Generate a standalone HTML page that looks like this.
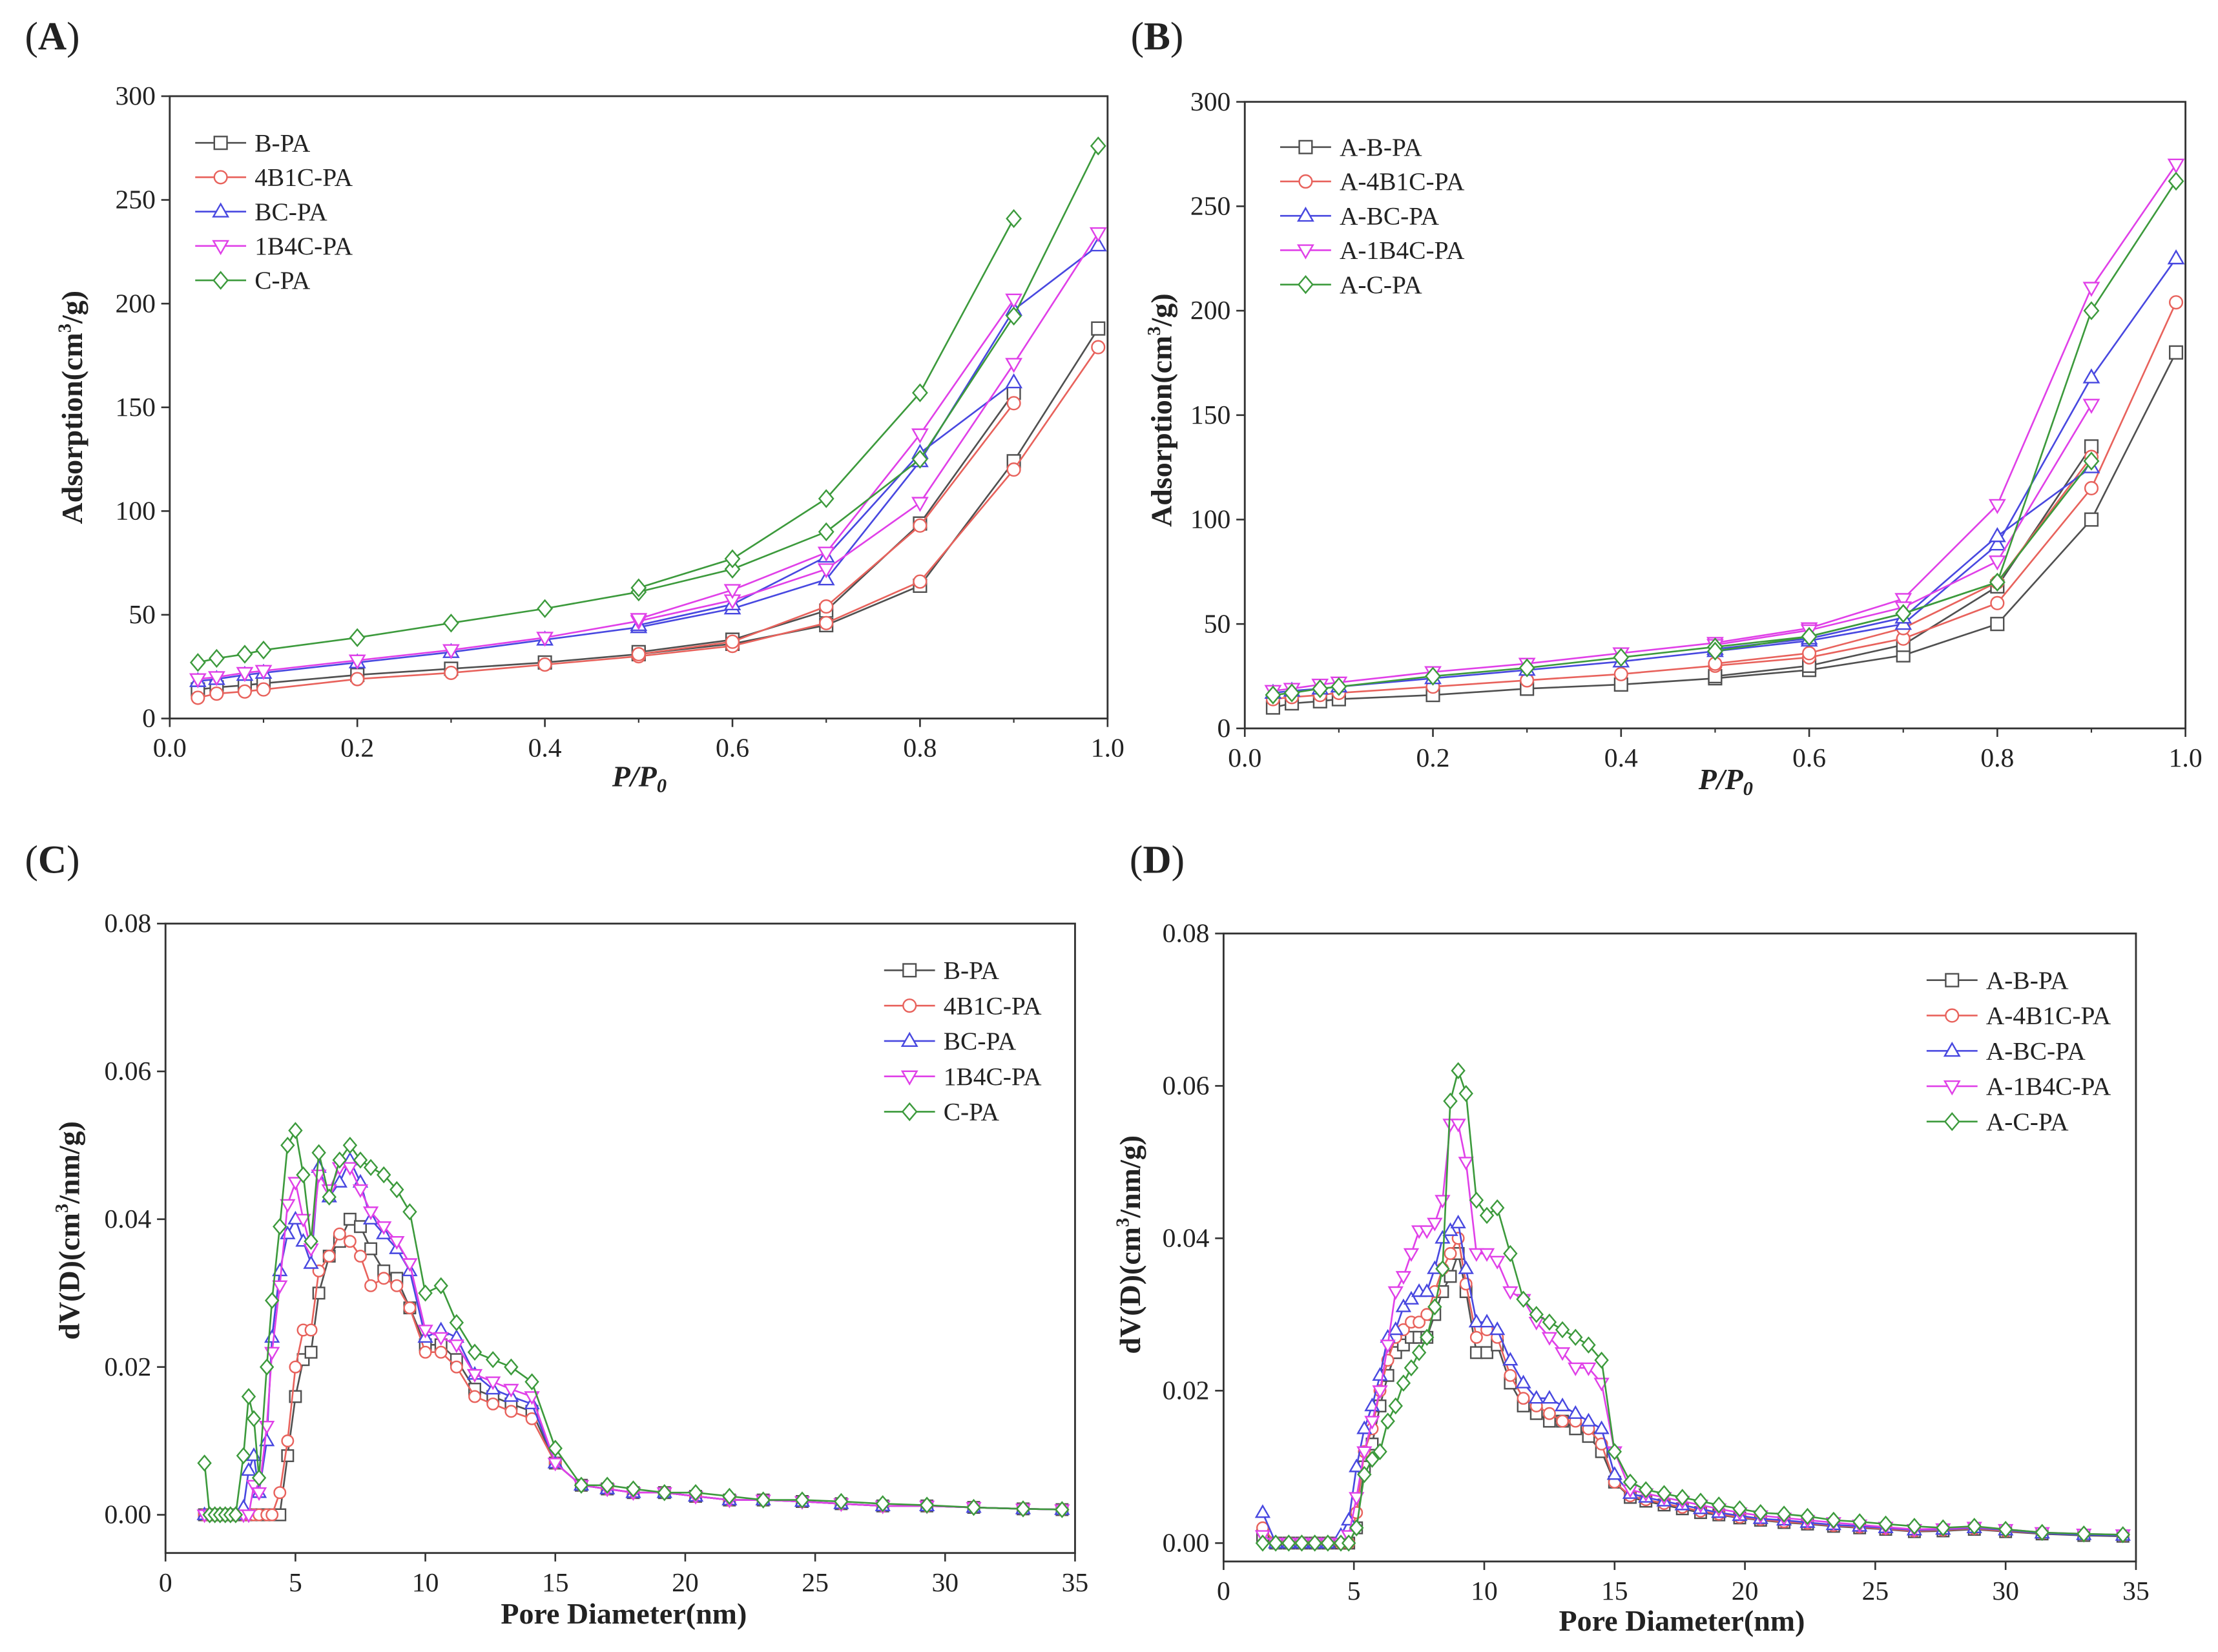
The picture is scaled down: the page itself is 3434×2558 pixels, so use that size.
<!DOCTYPE html>
<html><head><meta charset="utf-8"><style>
html,body{margin:0;padding:0;background:#fff}
svg{display:block}
text{font-family:"Liberation Serif",serif;fill:#222}
</style></head><body>
<svg id="fig" width="3434" height="2558" viewBox="0 0 1568 1168" xmlns="http://www.w3.org/2000/svg"></svg>
<script>
// ---------- data ----------
const isoX = [0.03,0.05,0.08,0.1,0.2,0.3,0.4,0.5,0.6,0.7,0.8,0.9,0.99];
const desX = [0.5,0.6,0.7,0.8,0.9];
const namesA = ["B-PA","4B1C-PA","BC-PA","1B4C-PA","C-PA"];
const namesB = ["A-B-PA","A-4B1C-PA","A-BC-PA","A-1B4C-PA","A-C-PA"];
const adsA_B = [14,15,16,17,21,24,27,31,36,45,64,124,188];
const adsA_4B1C = [10,12,13,14,19,22,26,30,35,46,66,120,179];
const adsA_BC = [18,19,21,22,27,32,38,44,53,67,124,197,228];
const adsA_1B4C = [19,20,22,23,28,33,39,47,57,72,104,171,234];
const adsA_C = [27,29,31,33,39,46,53,61,72,90,125,194,276];
const desA_B = [32,38,52,94,157];
const desA_4B1C = [31,37,54,93,152];
const desA_BC = [45,55,78,128,162];
const desA_1B4C = [48,62,80,137,202];
const desA_C = [63,77,106,157,241];
const adsB_B = [10,12,13,14,16,19,21,24,28,35,50,100,180];
const adsB_4B1C = [14,15,16,17,20,23,26,30,34,43,60,115,204];
const adsB_BC = [17,18,19,20,24,28,32,37,42,50,88,168,225];
const adsB_1B4C = [18,19,21,22,27,31,36,41,48,62,107,211,270];
const adsB_C = [16,17,19,20,25,29,34,39,44,55,70,200,262];
const desB_B = [25,30,40,68,135];
const desB_4B1C = [31,36,48,70,130];
const desB_BC = [38,43,53,92,125];
const desB_1B4C = [40,47,58,80,155];
const desB_C = [37,44,55,70,128];
const poreXC = [1.5,1.7,1.9,2.1,2.3,2.5,2.7,3.0,3.2,3.4,3.6,3.9,4.1,4.4,4.7,5.0,5.3,5.6,5.9,6.3,6.7,7.1,7.5,7.9,8.4,8.9,9.4,10.0,10.6,11.2,11.9,12.6,13.3,14.1,15.0,16.0,17.0,18.0,19.2,20.4,21.7,23.0,24.5,26.0,27.6,29.3,31.1,33.0,34.5];
const psdC_B = [0,0,0,0,0,0,0,0,0,0,0,0,0,0,0.008,0.016,0.021,0.022,0.030,0.035,0.037,0.040,0.039,0.036,0.033,0.032,0.028,0.023,0.023,0.021,0.017,0.016,0.015,0.014,0.007,0.004,0.0035,0.003,0.003,0.0025,0.002,0.002,0.0018,0.0015,0.0012,0.0012,0.001,0.0008,0.0007];
const psdC_4B1C = [0,0,0,0,0,0,0,0,0,0,0,0,0,0.003,0.010,0.020,0.025,0.025,0.033,0.035,0.038,0.037,0.035,0.031,0.032,0.031,0.028,0.022,0.022,0.020,0.016,0.015,0.014,0.013,0.007,0.004,0.0035,0.003,0.003,0.0025,0.002,0.002,0.0018,0.0015,0.0012,0.0012,0.001,0.0008,0.0007];
const psdC_BC = [0,0,0,0,0,0,0,0.001,0.006,0.008,0.003,0.010,0.024,0.033,0.038,0.040,0.037,0.034,0.047,0.043,0.045,0.048,0.045,0.040,0.038,0.036,0.033,0.024,0.025,0.024,0.019,0.017,0.016,0.015,0.007,0.004,0.0035,0.003,0.003,0.0025,0.002,0.002,0.0018,0.0015,0.0012,0.0012,0.001,0.0008,0.0007];
const psdC_1B4C = [0,0,0,0,0,0,0,0,0,0.004,0.003,0.012,0.022,0.031,0.042,0.045,0.040,0.036,0.046,0.044,0.047,0.047,0.044,0.041,0.039,0.037,0.034,0.025,0.024,0.023,0.019,0.018,0.017,0.016,0.007,0.004,0.0035,0.003,0.003,0.0025,0.002,0.002,0.0018,0.0015,0.0012,0.0012,0.001,0.0008,0.0007];
const psdC_C = [0.007,0,0,0,0,0,0,0.008,0.016,0.013,0.005,0.020,0.029,0.039,0.050,0.052,0.046,0.037,0.049,0.043,0.048,0.050,0.048,0.047,0.046,0.044,0.041,0.030,0.031,0.026,0.022,0.021,0.020,0.018,0.009,0.004,0.004,0.0035,0.003,0.003,0.0025,0.002,0.002,0.0018,0.0015,0.0013,0.001,0.0008,0.0007];
const poreXD = [1.5,2,2.5,3,3.5,4,4.5,4.8,5.1,5.4,5.7,6.0,6.3,6.6,6.9,7.2,7.5,7.8,8.1,8.4,8.7,9.0,9.3,9.7,10.1,10.5,11.0,11.5,12.0,12.5,13.0,13.5,14.0,14.5,15.0,15.6,16.2,16.9,17.6,18.3,19.0,19.8,20.6,21.5,22.4,23.4,24.4,25.4,26.5,27.6,28.8,30.0,31.4,33.0,34.5];
const psdD_B = [0.001,0,0,0,0,0,0,0,0.002,0.010,0.013,0.018,0.022,0.025,0.026,0.027,0.027,0.027,0.030,0.033,0.035,0.038,0.033,0.025,0.025,0.026,0.021,0.018,0.017,0.016,0.016,0.015,0.014,0.012,0.008,0.006,0.0055,0.005,0.0045,0.004,0.0037,0.0033,0.003,0.0027,0.0025,0.0022,0.002,0.0018,0.0015,0.0016,0.0018,0.0015,0.0012,0.001,0.0009];
const psdD_4B1C = [0.002,0,0,0,0,0,0,0,0.004,0.012,0.015,0.020,0.024,0.027,0.028,0.029,0.029,0.030,0.033,0.036,0.038,0.040,0.034,0.027,0.028,0.027,0.022,0.019,0.018,0.017,0.016,0.016,0.015,0.013,0.008,0.0062,0.0057,0.0052,0.0047,0.0042,0.0038,0.0034,0.0031,0.0028,0.0026,0.0023,0.0021,0.0019,0.0016,0.0017,0.0019,0.0016,0.0013,0.0011,0.001];
const psdD_BC = [0.004,0,0,0,0,0,0.001,0.003,0.010,0.015,0.018,0.022,0.027,0.028,0.031,0.032,0.033,0.033,0.036,0.040,0.041,0.042,0.036,0.029,0.029,0.028,0.024,0.021,0.019,0.019,0.018,0.017,0.016,0.015,0.009,0.0065,0.006,0.0055,0.005,0.0045,0.004,0.0036,0.0032,0.003,0.0027,0.0024,0.0022,0.002,0.0017,0.0018,0.002,0.0017,0.0013,0.0011,0.001];
const psdD_1B4C = [0.001,0,0,0,0,0,0,0.001,0.006,0.012,0.016,0.020,0.026,0.033,0.035,0.038,0.041,0.041,0.042,0.045,0.055,0.055,0.050,0.038,0.038,0.037,0.033,0.032,0.029,0.027,0.025,0.023,0.023,0.021,0.012,0.007,0.0065,0.006,0.0055,0.005,0.0045,0.004,0.0036,0.0033,0.003,0.0027,0.0024,0.0021,0.0018,0.0019,0.0021,0.0018,0.0014,0.0012,0.0011];
const psdD_C = [0,0,0,0,0,0,0,0,0.002,0.009,0.011,0.012,0.016,0.018,0.021,0.023,0.025,0.027,0.031,0.036,0.058,0.062,0.059,0.045,0.043,0.044,0.038,0.032,0.030,0.029,0.028,0.027,0.026,0.024,0.012,0.008,0.007,0.0065,0.006,0.0055,0.005,0.0045,0.004,0.0038,0.0035,0.003,0.0028,0.0025,0.0022,0.002,0.0022,0.0018,0.0014,0.0012,0.0011];
const isoXTicks = ["0.0","0.2","0.4","0.6","0.8","1.0"];
const isoYTicks = ["0","50","100","150","200","250","300"];
const psdXTicks = ["0","5","10","15","20","25","30","35"];
const psdYTicks = ["0.00","0.02","0.04","0.06","0.08"];

// ---------- drawing ----------
const NS="http://www.w3.org/2000/svg";
const svg=document.getElementById('fig');
const colors=["#505050","#e8625c","#4848e0","#e040e8","#3c9a3c"];
const markers=["square","circle","tri-up","tri-down","diamond"];
function mk(tag,attrs,parent){const e=document.createElementNS(NS,tag);for(const k in attrs)e.setAttribute(k,attrs[k]);(parent||svg).appendChild(e);return e;}
function marker(g,type,x,y,c,r){
  let e;
  if(type==="square")e=mk('rect',{x:x-r,y:y-r,width:2*r,height:2*r},g);
  else if(type==="circle")e=mk('circle',{cx:x,cy:y,r:r},g);
  else if(type==="tri-up")e=mk('polygon',{points:`${x},${y-r*1.2} ${x-r*1.15},${y+r*0.8} ${x+r*1.15},${y+r*0.8}`},g);
  else if(type==="tri-down")e=mk('polygon',{points:`${x},${y+r*1.2} ${x-r*1.15},${y-r*0.8} ${x+r*1.15},${y-r*0.8}`},g);
  else e=mk('polygon',{points:`${x},${y-r*1.3} ${x+r*1.1},${y} ${x},${y+r*1.3} ${x-r*1.1},${y}`},g);
  e.setAttribute('fill','#fff');e.setAttribute('stroke',c);e.setAttribute('stroke-width','1.1');
  
  
}
function panel(o){
  const g=mk('g',{});
  
  
  const sx=v=>o.x0+(v-o.xmin)/(o.xmax-o.xmin)*(o.x1-o.x0);
  const sy=v=>o.yz-(v-o.ymin)/(o.ymax-o.ymin)*(o.yz-o.yt);
  // frame
  const fr=mk('rect',{x:o.x0,y:o.yt,width:o.x1-o.x0,height:o.yb-o.yt,fill:'none',stroke:'#333','stroke-width':1.3},g);
  
  
  o.xt.forEach(t=>{const v=parseFloat(t),X=sx(v);
    mk('line',{x1:X,y1:o.yb,x2:X,y2:o.yb+6,stroke:'#333','stroke-width':1.2},g);
    const tx=mk('text',{x:X,y:o.yb+27,'text-anchor':'middle','font-size':19},g);tx.textContent=t;
    
    
  });
  if(o.xminor){o.xminor.forEach(v=>{const X=sx(v);mk('line',{x1:X,y1:o.yb,x2:X,y2:o.yb+3,stroke:'#333','stroke-width':1},g);});}
  o.yticks.forEach(t=>{const v=parseFloat(t),Y=sy(v);
    mk('line',{x1:o.x0-6,y1:Y,x2:o.x0,y2:Y,stroke:'#333','stroke-width':1.2},g);
    const tx=mk('text',{x:o.x0-10,y:Y+6,'text-anchor':'end','font-size':19},g);tx.textContent=t;
    
    
  });
  o.series.forEach((s,i)=>{
    const sg=mk('g',{},g);
    
    
    const branches=[[o.xs,s.ys]];if(s.des)branches.push([o.dx,s.des]);
    branches.forEach(([xs,ys])=>{
      const pts=xs.map((x,j)=>sx(x).toFixed(1)+','+sy(ys[j]).toFixed(1)).join(' ');
      mk('polyline',{points:pts,fill:'none',stroke:colors[i],'stroke-width':1.2},sg);
    });
    branches.forEach(([xs,ys])=>{xs.forEach((x,j)=>marker(sg,markers[i],sx(x),sy(ys[j]),colors[i],o.r));});
  });
  // legend
  o.series.forEach((s,i)=>{
    const Y=o.ly+i*o.lstep;
    const lg=mk('g',{},g);
    
    
    mk('line',{x1:o.lx,y1:Y,x2:o.lx+36,y2:Y,stroke:colors[i],'stroke-width':1.2},lg);
    marker(lg,markers[i],o.lx+18,Y,colors[i],4.5);
    const t=mk('text',{x:o.lx+42,y:Y+6,'font-size':18},lg);t.textContent=s.name;
  });
}
const isoMinor=[0.1,0.3,0.5,0.7,0.9];
panel({id:'panel-a',x0:120,x1:783,xmin:0,xmax:1,yt:68,yb:508,yz:508,ymin:0,ymax:300,xt:isoXTicks,xminor:isoMinor,yticks:isoYTicks,xs:isoX,dx:desX,r:4.5,lx:138,ly:101,lstep:24.3,
  series:[{name:namesA[0],ys:adsA_B,des:desA_B},{name:namesA[1],ys:adsA_4B1C,des:desA_4B1C},{name:namesA[2],ys:adsA_BC,des:desA_BC},{name:namesA[3],ys:adsA_1B4C,des:desA_1B4C},{name:namesA[4],ys:adsA_C,des:desA_C}]});
panel({id:'panel-b',x0:880,x1:1545,xmin:0,xmax:1,yt:72,yb:515,yz:515,ymin:0,ymax:300,xt:isoXTicks,xminor:isoMinor,yticks:isoYTicks,xs:isoX,dx:desX,r:4.5,lx:905,ly:104,lstep:24.3,
  series:[{name:namesB[0],ys:adsB_B,des:desB_B},{name:namesB[1],ys:adsB_4B1C,des:desB_4B1C},{name:namesB[2],ys:adsB_BC,des:desB_BC},{name:namesB[3],ys:adsB_1B4C,des:desB_1B4C},{name:namesB[4],ys:adsB_C,des:desB_C}]});
panel({id:'panel-c',x0:117,x1:760,xmin:0,xmax:35,yt:653,yb:1098,yz:1071,ymin:0,ymax:0.08,xt:psdXTicks,yticks:psdYTicks,xs:poreXC,r:4,lx:625,ly:686,lstep:25,
  series:[{name:namesA[0],ys:psdC_B},{name:namesA[1],ys:psdC_4B1C},{name:namesA[2],ys:psdC_BC},{name:namesA[3],ys:psdC_1B4C},{name:namesA[4],ys:psdC_C}]});
panel({id:'panel-d',x0:865,x1:1510,xmin:0,xmax:35,yt:660,yb:1104,yz:1091,ymin:0,ymax:0.08,xt:psdXTicks,yticks:psdYTicks,xs:poreXD,r:4,lx:1362,ly:693,lstep:25,
  series:[{name:namesB[0],ys:psdD_B},{name:namesB[1],ys:psdD_4B1C},{name:namesB[2],ys:psdD_BC},{name:namesB[3],ys:psdD_1B4C},{name:namesB[4],ys:psdD_C}]});

// labels
function label(name,x,y,html,size,rot,extra){
  const t=mk('text',{x:x,y:y,'font-size':size,'font-weight':'bold','text-anchor':'middle'});
  if(rot)t.setAttribute('transform',`rotate(-90 ${x} ${y})`);
  t.innerHTML=html;
  
  
  if(extra)for(const k in extra)t.setAttribute(k,extra[k]);
}
const yIso='Adsorption(cm<tspan dy="-8" font-size="13">3</tspan><tspan dy="8">/g)</tspan>';
const yPsd='dV(D)(cm<tspan dy="-8" font-size="13">3</tspan><tspan dy="8">/nm/g)</tspan>';
const xIso='P/P<tspan dy="4" font-size="14">0</tspan>';
label('y-axis-title-a',58,288,yIso,21,true);
label('y-axis-title-b',828,290,yIso,21,true);
label('y-axis-title-c',56,870,yPsd,21,true);
label('y-axis-title-d',806,880,yPsd,21,true);
label('x-axis-title-a',452,556,xIso,21,false,{'font-style':'italic'});
label('x-axis-title-b',1220,558,xIso,21,false,{'font-style':'italic'});
label('x-axis-title-c',441,1148,'Pore Diameter(nm)',21,false);
label('x-axis-title-d',1189,1153,'Pore Diameter(nm)',21,false);
[['panel-label-a',37,35,'A'],['panel-label-b',818,35,'B'],['panel-label-c',37,617,'C'],['panel-label-d',818,617,'D']].forEach(p=>{
  const t=mk('text',{x:p[1],y:p[2],'font-size':28,'text-anchor':'middle'});
  t.innerHTML='(<tspan font-weight="bold">'+p[3]+'</tspan>)';
  
  
});
</script>
</body></html>
